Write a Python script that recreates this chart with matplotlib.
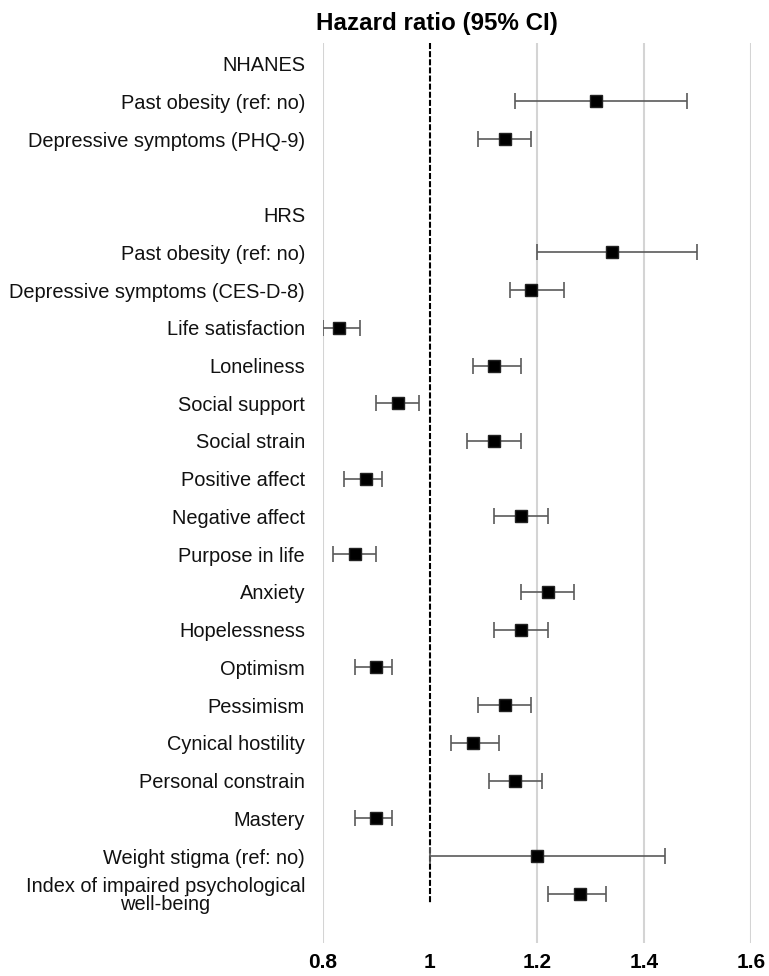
import numpy as np
import matplotlib
matplotlib.use("Agg")
import matplotlib.pyplot as plt

plt.rcParams['font.family'] = ['Liberation Sans', 'DejaVu Sans']

nan = np.nan
labels = ["NHANES", "Past obesity (ref: no)", "Depressive symptoms (PHQ-9)", "",
          "HRS", "Past obesity (ref: no)", "Depressive symptoms (CES-D-8)",
          "Life satisfaction", "Loneliness", "Social support", "Social strain",
          "Positive affect", "Negative affect", "Purpose in life", "Anxiety",
          "Hopelessness", "Optimism", "Pessimism", "Cynical hostility",
          "Personal constrain", "Mastery", "Weight stigma (ref: no)",
          "Index of impaired psychological\nwell-being"]
hr = [nan, 1.31, 1.14, nan,
      nan, 1.34, 1.19,
      0.83, 1.12, 0.94, 1.12,
      0.88, 1.17, 0.86, 1.22,
      1.17, 0.90, 1.14, 1.08,
      1.16, 0.90, 1.20, 1.28]
ci_lo = [nan, 1.16, 1.09, nan,
         nan, 1.20, 1.15,
         0.80, 1.08, 0.90, 1.07,
         0.84, 1.12, 0.82, 1.17,
         1.12, 0.86, 1.09, 1.04,
         1.11, 0.86, 1.00, 1.22]
ci_hi = [nan, 1.48, 1.19, nan,
         nan, 1.50, 1.25,
         0.87, 1.17, 0.98, 1.17,
         0.91, 1.22, 0.90, 1.27,
         1.22, 0.93, 1.19, 1.13,
         1.21, 0.93, 1.44, 1.33]
xticks = [0.8, 1.0, 1.2, 1.4, 1.6]
xticklabels = ["0.8", "1", "1.2", "1.4", "1.6"]

hr = np.array(hr)
lo = np.array(ci_lo)
hi = np.array(ci_hi)
rows = np.arange(len(labels))

fig = plt.figure(figsize=(7.69, 9.76), dpi=100)
ax = fig.add_axes([0.4196, 0.0338, 0.5570, 0.9221])

for x in xticks:
    if x != 1.0:
        ax.axvline(x, color="#d4d4d4", lw=1.5, zorder=0)
ax.vlines(1.0, -0.543, 22.24, colors="black", lw=1.5, linestyles=(0, (2.9, 1.0)), zorder=1)

ok = ~np.isnan(hr)
ax.errorbar(hr[ok], rows[ok], xerr=[hr[ok] - lo[ok], hi[ok] - hr[ok]],
            fmt="none", ecolor="#5a5a5a", elinewidth=1.2, capsize=5.5, capthick=1.2, zorder=2)
ax.plot(hr[ok], rows[ok], "s", color="black", ms=8.5, mec="#222222", zorder=3)

ax.set_xlim(0.8, 1.6)
ax.set_ylim(23.30, -0.543)
ax.set_xticks(xticks)
ax.set_xticklabels(xticklabels, fontsize=15, fontweight="bold")
ax.set_yticks(rows)
ax.set_yticklabels(labels, fontsize=14.4, color="#111111")
ax.tick_params(axis="y", length=0, pad=12.7)
ax.tick_params(axis="x", length=0, pad=7)
for t in ax.get_yticklabels():
    t.set_multialignment("center")
    t.set_linespacing(0.95)
for s in ax.spines.values():
    s.set_visible(False)

fig.text(0.568, 0.976, "Hazard ratio (95% CI)", fontsize=17.4, fontweight="bold",
         ha="center", va="center")

fig.savefig("out.png", dpi=100)
